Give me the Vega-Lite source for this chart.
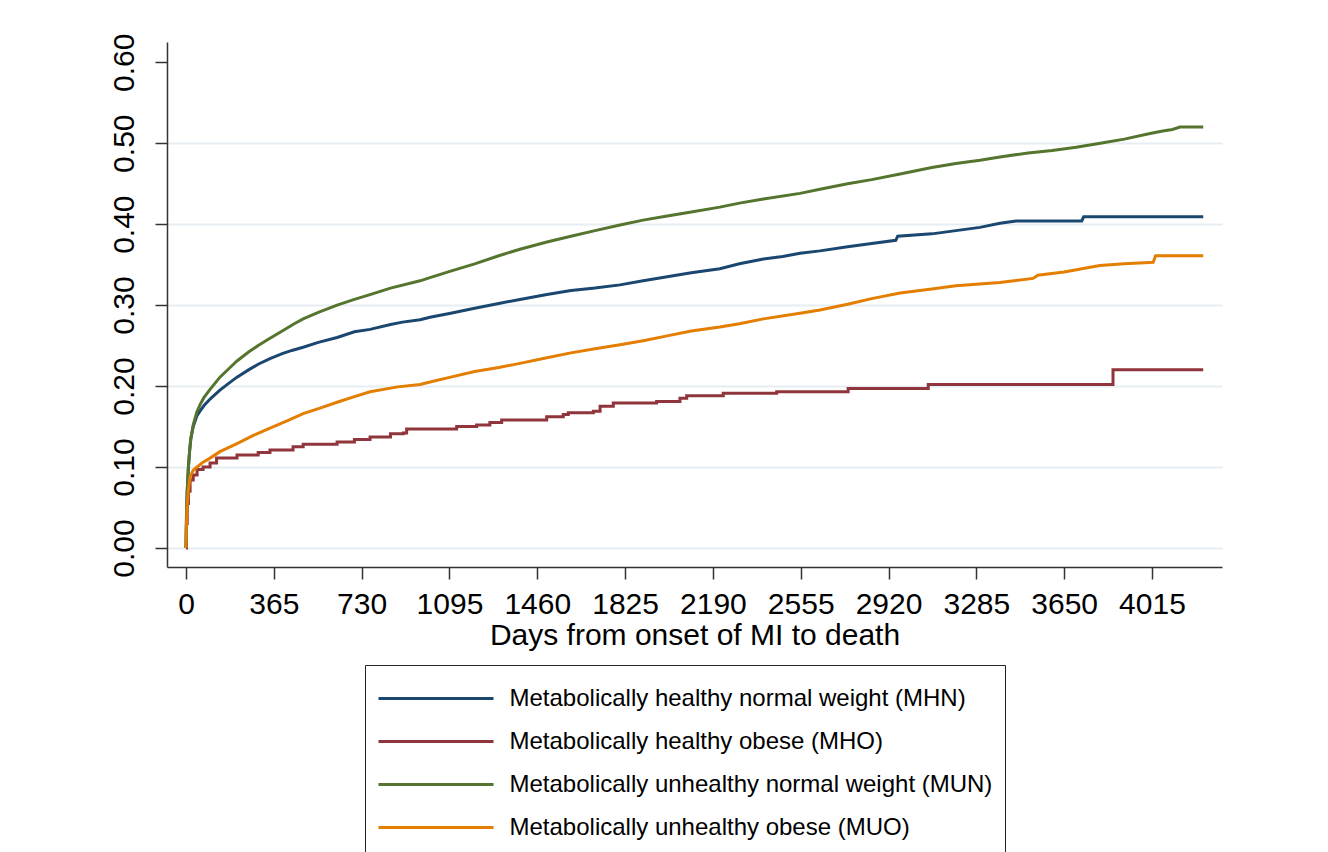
{
  "$schema": "https://vega.github.io/schema/vega-lite/v6.json",
  "width": 1055,
  "height": 525,
  "autosize": {"type": "none"},
  "padding": {"left": 167, "top": 42, "right": 106, "bottom": 285},
  "background": "white",
  "config": {"view": {"stroke": null}, "font": "Liberation Sans"},
  "datasets": {
    "km": [
      {"g":"MHN","d":0,"p":0},{"g":"MHN","d":2,"p":0.04},{"g":"MHN","d":5,"p":0.07},{"g":"MHN","d":10,"p":0.10},{"g":"MHN","d":15,"p":0.12},{"g":"MHN","d":20,"p":0.135},{"g":"MHN","d":30,"p":0.15},{"g":"MHN","d":45,"p":0.163},{"g":"MHN","d":60,"p":0.17},{"g":"MHN","d":75,"p":0.176},{"g":"MHN","d":100,"p":0.184},{"g":"MHN","d":141,"p":0.195},{"g":"MHN","d":180,"p":0.204},{"g":"MHN","d":212,"p":0.211},{"g":"MHN","d":260,"p":0.22},{"g":"MHN","d":300,"p":0.227},{"g":"MHN","d":349,"p":0.234},{"g":"MHN","d":400,"p":0.24},{"g":"MHN","d":440,"p":0.244},{"g":"MHN","d":487,"p":0.248},{"g":"MHN","d":550,"p":0.254},{"g":"MHN","d":628,"p":0.26},{"g":"MHN","d":700,"p":0.267},{"g":"MHN","d":765,"p":0.27},{"g":"MHN","d":850,"p":0.276},{"g":"MHN","d":900,"p":0.279},{"g":"MHN","d":973,"p":0.282},{"g":"MHN","d":1014,"p":0.285},{"g":"MHN","d":1100,"p":0.29},{"g":"MHN","d":1200,"p":0.296},{"g":"MHN","d":1300,"p":0.302},{"g":"MHN","d":1388,"p":0.307},{"g":"MHN","d":1500,"p":0.313},{"g":"MHN","d":1600,"p":0.318},{"g":"MHN","d":1700,"p":0.321},{"g":"MHN","d":1804,"p":0.325},{"g":"MHN","d":1900,"p":0.33},{"g":"MHN","d":2000,"p":0.335},{"g":"MHN","d":2100,"p":0.34},{"g":"MHN","d":2219,"p":0.345},{"g":"MHN","d":2300,"p":0.351},{"g":"MHN","d":2400,"p":0.357},{"g":"MHN","d":2480,"p":0.36},{"g":"MHN","d":2552,"p":0.364},{"g":"MHN","d":2635,"p":0.367},{"g":"MHN","d":2750,"p":0.372},{"g":"MHN","d":2850,"p":0.376},{"g":"MHN","d":2950,"p":0.38},{"g":"MHN","d":2958,"p":0.385},{"g":"MHN","d":3100,"p":0.388},{"g":"MHN","d":3200,"p":0.392},{"g":"MHN","d":3300,"p":0.396},{"g":"MHN","d":3383,"p":0.401},{"g":"MHN","d":3450,"p":0.404},{"g":"MHN","d":3723,"p":0.404},{"g":"MHN","d":3731,"p":0.409},{"g":"MHN","d":4228,"p":0.409},
      {"g":"MHO","d":0,"p":0},{"g":"MHO","d":2,"p":0.03},{"g":"MHO","d":5,"p":0.055},{"g":"MHO","d":10,"p":0.07},{"g":"MHO","d":17,"p":0.084},{"g":"MHO","d":30,"p":0.09},{"g":"MHO","d":46,"p":0.097},{"g":"MHO","d":71,"p":0.1},{"g":"MHO","d":100,"p":0.105},{"g":"MHO","d":127,"p":0.111},{"g":"MHO","d":212,"p":0.115},{"g":"MHO","d":300,"p":0.118},{"g":"MHO","d":349,"p":0.121},{"g":"MHO","d":445,"p":0.125},{"g":"MHO","d":487,"p":0.128},{"g":"MHO","d":628,"p":0.131},{"g":"MHO","d":700,"p":0.134},{"g":"MHO","d":765,"p":0.137},{"g":"MHO","d":850,"p":0.141},{"g":"MHO","d":903,"p":0.142},{"g":"MHO","d":917,"p":0.147},{"g":"MHO","d":1125,"p":0.15},{"g":"MHO","d":1208,"p":0.152},{"g":"MHO","d":1263,"p":0.155},{"g":"MHO","d":1312,"p":0.158},{"g":"MHO","d":1499,"p":0.162},{"g":"MHO","d":1568,"p":0.165},{"g":"MHO","d":1589,"p":0.167},{"g":"MHO","d":1693,"p":0.169},{"g":"MHO","d":1721,"p":0.175},{"g":"MHO","d":1776,"p":0.179},{"g":"MHO","d":1956,"p":0.181},{"g":"MHO","d":2053,"p":0.185},{"g":"MHO","d":2081,"p":0.188},{"g":"MHO","d":2233,"p":0.191},{"g":"MHO","d":2455,"p":0.193},{"g":"MHO","d":2752,"p":0.197},{"g":"MHO","d":3085,"p":0.202},{"g":"MHO","d":3853,"p":0.22},{"g":"MHO","d":4228,"p":0.22},
      {"g":"MUN","d":0,"p":0},{"g":"MUN","d":2,"p":0.04},{"g":"MUN","d":5,"p":0.07},{"g":"MUN","d":10,"p":0.10},{"g":"MUN","d":15,"p":0.12},{"g":"MUN","d":20,"p":0.135},{"g":"MUN","d":30,"p":0.152},{"g":"MUN","d":45,"p":0.168},{"g":"MUN","d":60,"p":0.178},{"g":"MUN","d":75,"p":0.186},{"g":"MUN","d":100,"p":0.196},{"g":"MUN","d":141,"p":0.211},{"g":"MUN","d":180,"p":0.222},{"g":"MUN","d":212,"p":0.231},{"g":"MUN","d":260,"p":0.242},{"g":"MUN","d":300,"p":0.25},{"g":"MUN","d":349,"p":0.259},{"g":"MUN","d":400,"p":0.268},{"g":"MUN","d":450,"p":0.277},{"g":"MUN","d":487,"p":0.283},{"g":"MUN","d":550,"p":0.291},{"g":"MUN","d":628,"p":0.3},{"g":"MUN","d":700,"p":0.307},{"g":"MUN","d":765,"p":0.313},{"g":"MUN","d":850,"p":0.321},{"g":"MUN","d":973,"p":0.33},{"g":"MUN","d":1014,"p":0.334},{"g":"MUN","d":1100,"p":0.342},{"g":"MUN","d":1200,"p":0.351},{"g":"MUN","d":1300,"p":0.361},{"g":"MUN","d":1388,"p":0.369},{"g":"MUN","d":1500,"p":0.378},{"g":"MUN","d":1600,"p":0.385},{"g":"MUN","d":1700,"p":0.392},{"g":"MUN","d":1804,"p":0.399},{"g":"MUN","d":1900,"p":0.405},{"g":"MUN","d":2000,"p":0.41},{"g":"MUN","d":2100,"p":0.415},{"g":"MUN","d":2219,"p":0.421},{"g":"MUN","d":2300,"p":0.426},{"g":"MUN","d":2400,"p":0.431},{"g":"MUN","d":2552,"p":0.438},{"g":"MUN","d":2635,"p":0.443},{"g":"MUN","d":2750,"p":0.45},{"g":"MUN","d":2850,"p":0.455},{"g":"MUN","d":2968,"p":0.462},{"g":"MUN","d":3100,"p":0.47},{"g":"MUN","d":3200,"p":0.475},{"g":"MUN","d":3300,"p":0.479},{"g":"MUN","d":3383,"p":0.483},{"g":"MUN","d":3500,"p":0.488},{"g":"MUN","d":3600,"p":0.491},{"g":"MUN","d":3700,"p":0.495},{"g":"MUN","d":3800,"p":0.5},{"g":"MUN","d":3900,"p":0.505},{"g":"MUN","d":4007,"p":0.512},{"g":"MUN","d":4060,"p":0.515},{"g":"MUN","d":4100,"p":0.517},{"g":"MUN","d":4131,"p":0.52},{"g":"MUN","d":4228,"p":0.52},
      {"g":"MUO","d":0,"p":0},{"g":"MUO","d":2,"p":0.03},{"g":"MUO","d":5,"p":0.055},{"g":"MUO","d":10,"p":0.072},{"g":"MUO","d":17,"p":0.088},{"g":"MUO","d":30,"p":0.096},{"g":"MUO","d":46,"p":0.1},{"g":"MUO","d":71,"p":0.106},{"g":"MUO","d":100,"p":0.111},{"g":"MUO","d":141,"p":0.119},{"g":"MUO","d":212,"p":0.129},{"g":"MUO","d":280,"p":0.139},{"g":"MUO","d":349,"p":0.148},{"g":"MUO","d":420,"p":0.157},{"g":"MUO","d":487,"p":0.166},{"g":"MUO","d":560,"p":0.173},{"g":"MUO","d":628,"p":0.18},{"g":"MUO","d":700,"p":0.187},{"g":"MUO","d":765,"p":0.193},{"g":"MUO","d":880,"p":0.199},{"g":"MUO","d":973,"p":0.202},{"g":"MUO","d":1014,"p":0.205},{"g":"MUO","d":1100,"p":0.211},{"g":"MUO","d":1200,"p":0.218},{"g":"MUO","d":1300,"p":0.223},{"g":"MUO","d":1388,"p":0.228},{"g":"MUO","d":1500,"p":0.235},{"g":"MUO","d":1600,"p":0.241},{"g":"MUO","d":1700,"p":0.246},{"g":"MUO","d":1804,"p":0.251},{"g":"MUO","d":1900,"p":0.256},{"g":"MUO","d":2000,"p":0.262},{"g":"MUO","d":2100,"p":0.268},{"g":"MUO","d":2219,"p":0.273},{"g":"MUO","d":2300,"p":0.277},{"g":"MUO","d":2400,"p":0.283},{"g":"MUO","d":2552,"p":0.29},{"g":"MUO","d":2635,"p":0.294},{"g":"MUO","d":2750,"p":0.301},{"g":"MUO","d":2850,"p":0.308},{"g":"MUO","d":2968,"p":0.315},{"g":"MUO","d":3100,"p":0.32},{"g":"MUO","d":3200,"p":0.324},{"g":"MUO","d":3383,"p":0.328},{"g":"MUO","d":3521,"p":0.333},{"g":"MUO","d":3540,"p":0.337},{"g":"MUO","d":3650,"p":0.341},{"g":"MUO","d":3798,"p":0.349},{"g":"MUO","d":3900,"p":0.351},{"g":"MUO","d":4020,"p":0.353},{"g":"MUO","d":4030,"p":0.361},{"g":"MUO","d":4228,"p":0.361}
    ]
  },
  "data": {"name": "km"},
  "encoding": {
    "x": {
      "field": "d", "type": "quantitative",
      "scale": {"domain": [-79, 4306], "nice": false, "zero": false},
      "axis": {
        "values": [0, 365, 730, 1095, 1460, 1825, 2190, 2555, 2920, 3285, 3650, 4015],
        "format": "d",
        "title": "Days from onset of MI to death",
        "titleFontSize": 30, "titleFontWeight": "normal", "titleColor": "#000", "titlePadding": 1,
        "labelFontSize": 30, "labelColor": "#000", "labelPadding": 10, "labelFlush": false, "labelOverlap": false,
        "tickSize": 12, "tickColor": "#333", "tickWidth": 1.5,
        "domainColor": "#333", "domainWidth": 1.5, "grid": false
      }
    },
    "y": {
      "field": "p", "type": "quantitative",
      "scale": {"domain": [-0.0235, 0.625], "nice": false, "zero": false},
      "axis": {
        "values": [0, 0.1, 0.2, 0.3, 0.4, 0.5, 0.6],
        "format": ".2f", "title": null,
        "labelFontSize": 30, "labelColor": "#000", "labelAngle": 270, "labelAlign": "center", "labelBaseline": "bottom", "labelPadding": 16,
        "tickSize": 12, "tickColor": "#333", "tickWidth": 1.5,
        "domainColor": "#333", "domainWidth": 1.5,
        "grid": true, "gridColor": "#e7eef2", "gridWidth": 2,
        "gridOpacity": {"condition": {"test": "datum.value > 0.55", "value": 0}, "value": 1}
      }
    },
    "color": {
      "field": "g", "type": "nominal",
      "scale": {"domain": ["MHN", "MHO", "MUN", "MUO"], "range": ["#1a476f", "#90353b", "#55752f", "#e37e00"]},
      "legend": {
        "orient": "none", "legendX": 198, "legendY": 623, "direction": "vertical",
        "title": null, "strokeColor": "#222", "padding": 12, "fillColor": "white",
        "symbolType": "M-2.875,0H2.875", "symbolSize": 1600, "symbolStrokeWidth": 3, "symbolOffset": 37.5,
        "labelFontSize": 24, "labelColor": "#000", "labelOffset": 52, "labelLimit": 0, "rowPadding": 9,
        "labelExpr": "{'MHN': 'Metabolically healthy normal weight (MHN)', 'MHO': 'Metabolically healthy obese (MHO)', 'MUN': 'Metabolically unhealthy normal weight (MUN)', 'MUO': 'Metabolically unhealthy obese (MUO)'}[datum.label]"
      }
    }
  },
  "layer": [
    {
      "transform": [{"filter": "datum.g === 'MHO'"}],
      "mark": {"type": "line", "interpolate": "step-after", "strokeWidth": 3}
    },
    {
      "transform": [{"filter": "datum.g !== 'MHO'"}],
      "mark": {"type": "line", "interpolate": "linear", "strokeWidth": 3}
    }
  ]
}
